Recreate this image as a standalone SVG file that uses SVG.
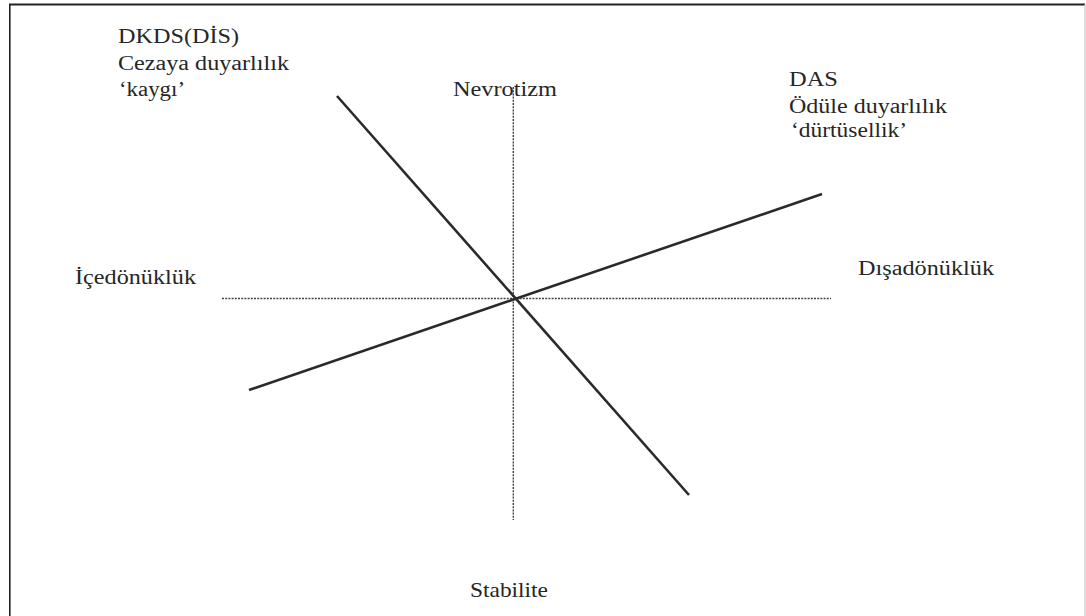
<svg xmlns="http://www.w3.org/2000/svg" width="1086" height="616" viewBox="0 0 1086 616">
  <style>
    text { font-family: 'Liberation Serif', 'DejaVu Serif', 'Times New Roman', serif; font-size: 20px; fill: #262626; }
    .axis { stroke: #444; stroke-width: 1.4; stroke-dasharray: 2 1.2; fill: none; }
    .dim { stroke: #2a2a2a; stroke-width: 2.6; fill: none; stroke-linecap: butt; }
  </style>
  <rect x="0" y="0" width="1086" height="616" fill="#ffffff"/>
  <g id="frame">
    <line x1="9" y1="4.5" x2="1085" y2="4.5" stroke="#222" stroke-width="2.2"/>
    <line x1="9.8" y1="4" x2="9.8" y2="616" stroke="#222" stroke-width="1.6"/>
    <line x1="1085" y1="4" x2="1085" y2="616" stroke="#bbb" stroke-width="1"/>
  </g>
  <g id="connectors">
    <line class="axis" x1="513.3" y1="87" x2="513.3" y2="520"/>
    <line class="axis" x1="222" y1="298.5" x2="831" y2="298.5"/>
    <line class="dim" x1="337" y1="96" x2="689" y2="495"/>
    <line class="dim" x1="249" y1="390" x2="822" y2="194"/>
  </g>
  <g id="node-dkds">
    <text x="118" y="43" textLength="121" lengthAdjust="spacingAndGlyphs">DKDS(DİS)</text>
    <text x="118" y="70" textLength="171" lengthAdjust="spacingAndGlyphs">Cezaya duyarlılık</text>
    <text x="119" y="96" textLength="66" lengthAdjust="spacingAndGlyphs">‘kaygı’</text>
  </g>
  <g id="node-das">
    <text x="789" y="86" textLength="49" lengthAdjust="spacingAndGlyphs">DAS</text>
    <text x="789" y="113" textLength="158" lengthAdjust="spacingAndGlyphs">Ödüle duyarlılık</text>
    <text x="791" y="137" textLength="116" lengthAdjust="spacingAndGlyphs">‘dürtüsellik’</text>
  </g>
  <g id="node-nevrotizm">
    <text x="453" y="96" textLength="104" lengthAdjust="spacingAndGlyphs">Nevrotizm</text>
  </g>
  <g id="node-stabilite">
    <text x="470" y="597" textLength="78" lengthAdjust="spacingAndGlyphs" style="font-size:21px">Stabilite</text>
  </g>
  <g id="node-icedonukluk">
    <text x="75" y="284" textLength="121" lengthAdjust="spacingAndGlyphs">İçedönüklük</text>
  </g>
  <g id="node-disadonukluk">
    <text x="858" y="275" textLength="136" lengthAdjust="spacingAndGlyphs">Dışadönüklük</text>
  </g>
</svg>
